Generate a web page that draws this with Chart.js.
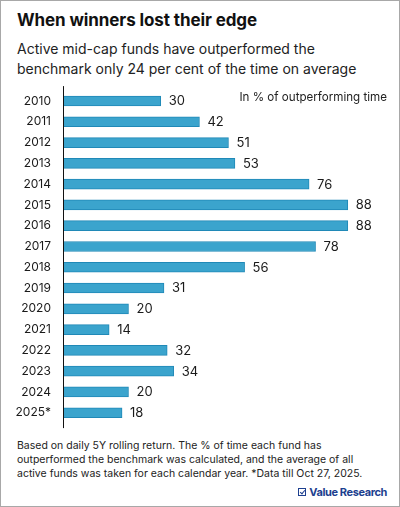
<!DOCTYPE html>
<html>
<head>
<meta charset="utf-8">
<script src="https://cdn.jsdelivr.net/npm/chart.js@4.4.1/dist/chart.umd.min.js"></script>
<style>
  html, body { margin: 0; padding: 0; background: #fff; }
  body { font-family: Inter, "Noto Sans", sans-serif; color: #1a1a1a; }
  .frame { position: relative; width: 400px; height: 507px; box-sizing: border-box; border: 1px solid #a8a8a8; overflow: hidden; }
  .title { position: absolute; left: 16px; top: 9px; font-size: 17px; font-weight: 700; letter-spacing: -0.1px; color: #111; }
  .sub { position: absolute; left: 16px; top: 38px; font-size: 14px; line-height: 19.5px; color: #222; }
  .unit { position: absolute; right: 12px; top: 89px; font-size: 11.6px; color: #222; }
  .chartbox { position: absolute; left: 0; top: 80px; width: 400px; height: 350px; }
  .foot { position: absolute; left: 16px; top: 438px; font-size: 10.5px; line-height: 14px; color: #222; }
  .logo { position: absolute; right: 12px; top: 484px; font-size: 11px; font-weight: 700; color: #1d3f8f; letter-spacing: -0.4px; }
  .logo .box { display: inline-block; width: 6px; height: 6px; border: 1.2px solid #1d3f8f; margin-right: 3px; vertical-align: 0px; position: relative; }
  .logo .box::after { content: ''; position: absolute; left: 1.5px; top: -0.5px; width: 2px; height: 4px; border-right: 1.2px solid #1d3f8f; border-bottom: 1.2px solid #1d3f8f; transform: rotate(40deg); }
</style>
</head>
<body>
<div class="frame">
  <div class="title">When winners lost their edge</div>
  <div class="sub">Active mid-cap funds have outperformed the<br>benchmark only 24 per cent of the time on average</div>
  <div class="chartbox"><canvas id="c"></canvas></div>
  <div class="unit">In % of outperforming time</div>
  <div class="foot">Based on daily 5Y rolling return. The % of time each fund has<br>outperformed the benchmark was calculated, and the average of all<br>active funds was taken for each calendar year. *Data till Oct 27, 2025.</div>
  <div class="logo"><span class="box"></span>Value Research</div>
</div>
<script>
const years = ['2010', '2011', '2012', '2013', '2014', '2015', '2016', '2017', '2018', '2019', '2020', '2021', '2022', '2023', '2024', '2025*'];
const outperformPct = [30, 42, 51, 53, 76, 88, 88, 78, 56, 31, 20, 14, 32, 34, 20, 18];

// value labels at the end of each bar
const barLabels = {
  id: 'barLabels',
  afterDatasetsDraw(chart) {
    const ctx = chart.ctx;
    const meta = chart.getDatasetMeta(0);
    ctx.save();
    ctx.font = '13px Inter, sans-serif';
    ctx.fillStyle = '#1a1a1a';
    ctx.textBaseline = 'middle';
    ctx.textAlign = 'left';
    meta.data.forEach((bar, i) => {
      ctx.fillText(outperformPct[i], bar.x + 8, bar.y + 0.5);
    });
    ctx.restore();
  }
};

// vertical axis line, a little longer than the plot area
const axisLine = {
  id: 'axisLine',
  afterDatasetsDraw(chart) {
    const { ctx, chartArea } = chart;
    ctx.save();
    ctx.strokeStyle = '#111';
    ctx.lineWidth = 1;
    ctx.beginPath();
    ctx.moveTo(chartArea.left - 0.5, chartArea.top - 4.5);
    ctx.lineTo(chartArea.left - 0.5, chartArea.bottom + 5);
    ctx.stroke();
    ctx.restore();
  }
};

new Chart(document.getElementById('c'), {
  type: 'bar',
  data: {
    labels: years,
    datasets: [{
      data: outperformPct,
      backgroundColor: '#3ba4cd',
      borderColor: '#2089b7',
      borderWidth: 1,
      borderSkipped: 'left',
      barThickness: 10
    }]
  },
  options: {
    indexAxis: 'y',
    responsive: true,
    maintainAspectRatio: false,
    animation: false,
    layout: { padding: { top: 9.6, bottom: 7.9, right: 14.5, left: 0 } },
    plugins: { legend: { display: false }, tooltip: { enabled: false } },
    scales: {
      x: { display: false, min: 0, max: 100 },
      y: {
        grid: { display: false, drawTicks: false },
        border: { display: false },
        afterFit(scale) {
          scale.width = 63;
          scale.paddingTop = 0;
          scale.paddingBottom = 0;
        },
        ticks: {
          padding: 13,
          color: '#1a1a1a',
          font: { family: 'Inter, sans-serif', size: 12 }
        }
      }
    }
  },
  plugins: [barLabels, axisLine]
});
</script>
</body>
</html>
